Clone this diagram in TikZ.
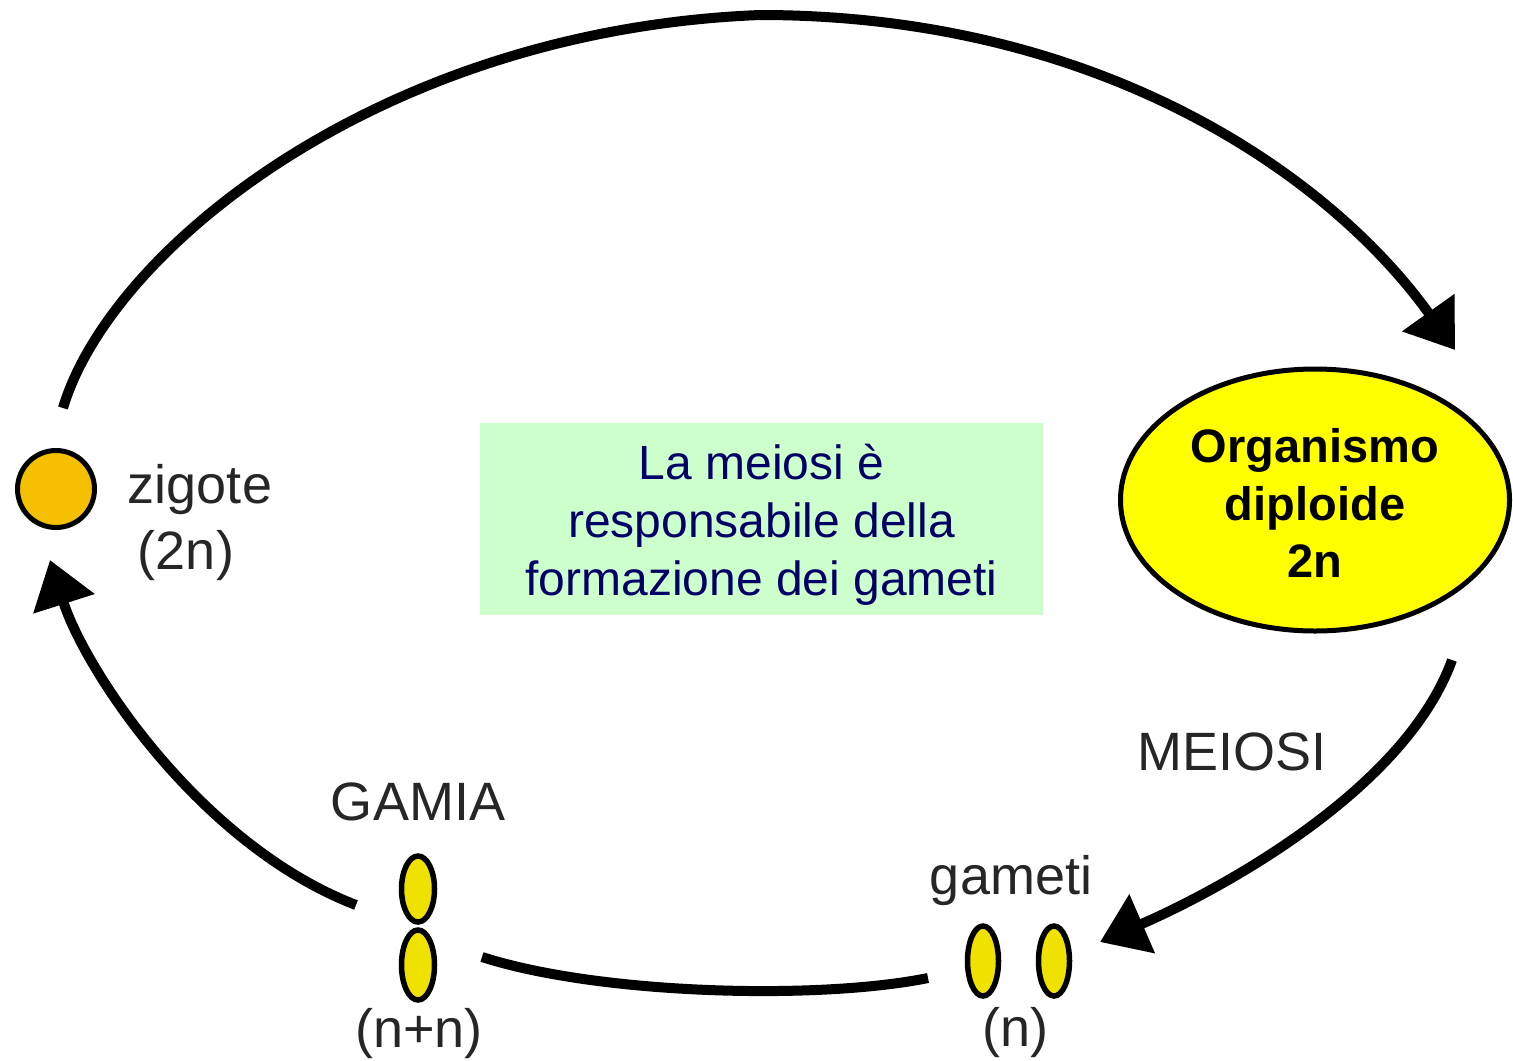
\documentclass[tikz,border=0pt]{standalone}
\usepackage{fontspec}
\setmainfont{Liberation Sans}
\usetikzlibrary{arrows.meta,shapes.geometric}
\definecolor{zigfill}{RGB}{245,192,0}
\definecolor{gamfill}{RGB}{240,226,0}
\definecolor{orgfill}{RGB}{255,255,0}
\definecolor{boxfill}{RGB}{204,255,204}
\definecolor{navytext}{RGB}{0,0,102}
\definecolor{labgray}{RGB}{38,38,38}
\begin{document}
\begin{tikzpicture}[x=0.5pt,y=-0.5pt,
  cyc/.style={line width=5pt, -{Triangle[length=23pt,width=31pt]}},
  cycplain/.style={line width=5pt},
  lab/.style={text=labgray, font=\fontsize{27}{32}\selectfont, inner sep=0pt, anchor=base},
  gam/.style={ellipse, draw, line width=2.75pt, fill=gamfill, minimum width=16.5pt, minimum height=33pt, inner sep=0pt},
  zigstyle/.style={circle, draw, line width=2.5pt, fill=zigfill, minimum size=38.5pt, inner sep=0pt},
  orgstyle/.style={ellipse, draw, line width=2.5pt, fill=orgfill, minimum width=194.5pt, minimum height=131pt, inner sep=0pt,
    align=center, font=\bfseries\fontsize{23.5}{28.75}\selectfont},
  infobox/.style={rectangle, fill=boxfill, minimum width=281.5pt, minimum height=96pt, inner sep=0pt,
    align=center, text=navytext, font=\fontsize{24}{29}\selectfont}
 ]
\useasboundingbox (0,0) rectangle (1513,1060);
% main nodes
\node[zigstyle] (zig) at (56,489) {};
\node[orgstyle] (org) at (1315,500) {};
\node[align=center, font=\bfseries\fontsize{23.5}{28.75}\selectfont, inner sep=0pt] (orgtext) at (1315,503) {Organismo\\diploide\\2n};
\node[infobox] (info) at (761.5,519) {};
\node[align=center, text=navytext, font=\fontsize{24}{29}\selectfont, inner sep=0pt] (infotext) at (761.5,525) {La meiosi è\\responsabile della\\formazione dei gameti};
\node[gam] (gtop) at (418,889) {};
\node[gam, minimum height=35pt] (gbot) at (418,965) {};
\node[gam, minimum width=15.5pt, minimum height=35pt] (gl) at (983,961) {};
\node[gam, minimum width=15.5pt, minimum height=35pt] (gr) at (1054,961) {};
% labels
\node[lab] (zigl) at (200,503) {zigote};
\node[lab] (zign) at (186,569) {(2n)};
\node[lab] (gamial) at (418,820) {GAMIA};
\node[lab] (nnl) at (419,1047) {(n+n)};
\node[lab] (gametil) at (1011,894) {gameti};
\node[lab] (nl) at (1015,1046) {(n)};
\node[lab] (meiosil) at (1232,770) {MEIOSI};
% connector end points
\coordinate (a1s) at (63,408);
\coordinate (a1e) at (1455,350);
\coordinate (a2s) at (1452,660);
\coordinate (a2e) at (1100,942);
\coordinate (b1) at (482,957);
\coordinate (b2) at (928,978);
\coordinate (a3s) at (356,905);
\coordinate (a3e) at (50,560);
% connectors
\draw[cyc] (a1s) .. controls (110,250) and (380,30) .. (760,15) .. controls (1100,15) and (1330,175) .. (a1e);
\draw[cyc] (a2s) .. controls (1405,790) and (1220,890) .. (a2e);
\draw[cycplain] (b2) .. controls (820,1000) and (600,995) .. (b1);
\draw[cyc] (a3s) .. controls (200,845) and (85,670) .. (a3e);
\end{tikzpicture}
\end{document}
